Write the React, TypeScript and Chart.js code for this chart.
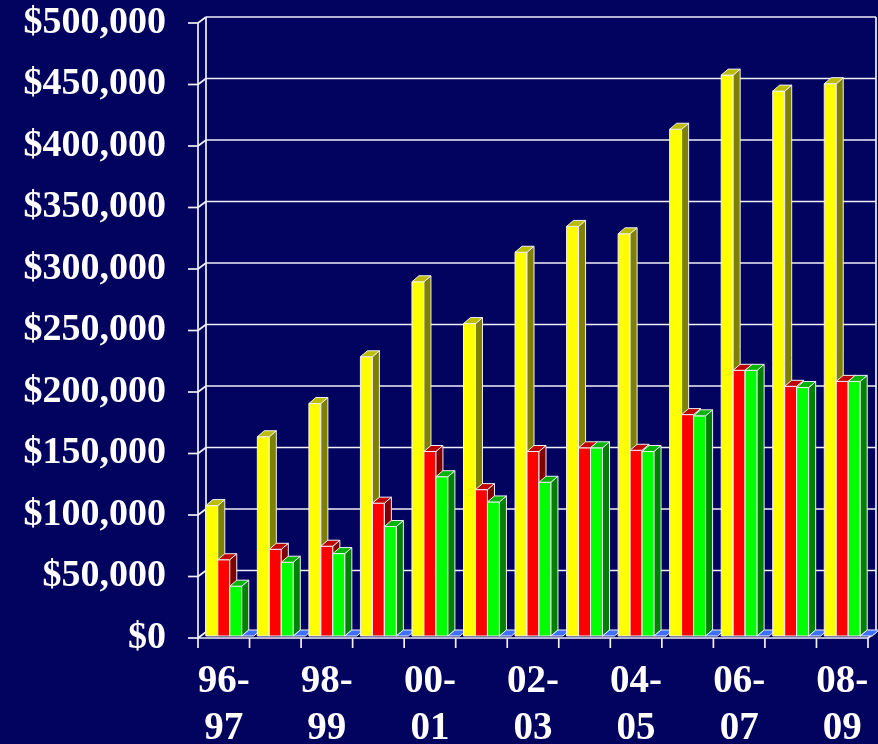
import React, { useEffect, useRef } from "react";
import { Chart, registerables } from "chart.js";

Chart.register(...registerables);

const categories = [
  "96-97", "97-98", "98-99", "99-00", "00-01", "01-02", "02-03",
  "03-04", "04-05", "05-06", "06-07", "07-08", "08-09",
];
const yellowSeries = [106000, 162000, 189000, 227000, 288000, 254000, 312000, 333000, 327000, 412000, 456000, 443000, 449000];
const redSeries = [62000, 70500, 73000, 108000, 150000, 119000, 150000, 153000, 151000, 180000, 216000, 203000, 207000];
const greenSeries = [40500, 60000, 67000, 89000, 129500, 109000, 125000, 153000, 150000, 179000, 216000, 202000, 207000];
const blueSeries = [0, 0, 0, 0, 0, 0, 0, 0, 0, 0, 0, 0, 0];
const yTickStep = 50000;
const yMax = 500000;

const faceColors = [
  { front: "#FFFF00", side: "#808000", top: "#BDBD00" },
  { front: "#FF0000", side: "#800000", top: "#C00000" },
  { front: "#00FF00", side: "#008000", top: "#00B400" },
  { front: "#3F6FFF", side: "#2040A0", top: "#3F6FFF" },
];

const BG = "#02025F";
const LINE = "#F0F0F8";
const BDX = 8; // back plane x offset
const BDY = -6; // back plane y offset
const SX = 6; // bar plane x shift
const SY = -2; // bar plane y shift
const D = 7; // bar depth x
const DY = 6; // bar depth y

const threeD = {
  id: "threeD",
  beforeDraw(chart: any) {
    const { ctx, width, height } = chart;
    ctx.save();
    ctx.fillStyle = BG;
    ctx.fillRect(0, 0, width, height);
    ctx.restore();
  },
  beforeDatasetsDraw(chart: any) {
    const { ctx, chartArea } = chart;
    const ys = chart.scales.y;
    const xs = chart.scales.x;
    const L = chartArea.left;
    const R = chartArea.right;
    const y0 = ys.getPixelForValue(0);
    const yTop = ys.getPixelForValue(yMax);
    ctx.save();
    ctx.strokeStyle = LINE;
    ctx.lineWidth = 1.7;
    ctx.lineCap = "butt";
    const line = (a: number, b: number, c: number, d: number) => {
      ctx.beginPath();
      ctx.moveTo(a, b);
      ctx.lineTo(c, d);
      ctx.stroke();
    };
    ys.ticks.forEach((t: any) => {
      const yF = ys.getPixelForValue(t.value);
      const yB = yF + BDY;
      line(L + BDX, yB, R + BDX, yB);
      line(L, yF, L + BDX, yB);
      line(L - 10, yF, L, yF);
    });
    line(L, yTop, L, y0 + 1);
    line(L + BDX, yTop + BDY, L + BDX, y0 + BDY);
    line(R + BDX, yTop + BDY, R + BDX, y0 + BDY);
    const n = categories.length;
    const cw = (R - L) / n;
    line(L, y0, R, y0);
    line(R, y0, R + BDX, y0 + BDY);
    for (let k = 0; k <= n; k++) {
      const xb = xs.left + k * cw;
      line(xb, y0, xb, y0 + 10);
    }
    ctx.restore();
  },
  afterDatasetsDraw(chart: any) {
    const { ctx } = chart;
    const metas = [0, 1, 2, 3].map((i) => chart.getDatasetMeta(i));
    ctx.save();
    ctx.strokeStyle = LINE;
    ctx.lineWidth = 1;
    ctx.lineJoin = "miter";
    const poly = (pts: number[][], fill: string) => {
      ctx.beginPath();
      ctx.moveTo(pts[0][0], pts[0][1]);
      for (let i = 1; i < pts.length; i++) ctx.lineTo(pts[i][0], pts[i][1]);
      ctx.closePath();
      ctx.fillStyle = fill;
      ctx.fill();
      ctx.stroke();
    };
    for (let i = 0; i < categories.length; i++) {
      metas.forEach((meta: any, di: number) => {
        const el = meta.data[i];
        if (!el) return;
        const c = faceColors[di];
        const x0 = el.x - el.width / 2 + SX;
        const x1 = el.x + el.width / 2 + SX;
        const top = el.y + SY;
        const base = el.base + SY;
        if (base - top > 0.5) {
          poly([[x0, top], [x1, top], [x1, base], [x0, base]], c.front);
          poly([[x1, top], [x1 + D, top - DY], [x1 + D, base - DY], [x1, base]], c.side);
        }
        poly([[x0, top], [x0 + D, top - DY], [x1 + D, top - DY], [x1, top]], c.top);
      });
    }
    ctx.restore();
  },
};

export default function App() {
  const ref = useRef<HTMLCanvasElement | null>(null);
  useEffect(() => {
    document.body.style.margin = "0";
    document.body.style.background = BG;
    const canvas = ref.current;
    if (!canvas) return;
    const chart = new Chart(canvas, {
      type: "bar",
      data: {
        labels: categories,
        datasets: [yellowSeries, redSeries, greenSeries, blueSeries].map((d, i) => ({
          label: "s" + i,
          data: d,
          backgroundColor: "rgba(0,0,0,0)",
          borderWidth: 0,
          categoryPercentage: 0.93,
          barPercentage: 1,
        })),
      },
      options: {
        responsive: false,
        animation: false,
        devicePixelRatio: 1,
        layout: { padding: { top: 23, right: 10, left: 0, bottom: 0 } },
        plugins: { legend: { display: false }, tooltip: { enabled: false } },
        scales: {
          x: {
            type: "category",
            grid: { display: false, drawTicks: false },
            border: { display: false },
            ticks: {
              autoSkip: false,
              maxRotation: 0,
              minRotation: 0,
              padding: 20,
              color: "#FFFFFF",
              font: { family: "'Liberation Serif', serif", size: 39, weight: "bold", lineHeight: 1.22 },
              callback: (_v: any, idx: number) => {
                if (idx % 2 !== 0) return "";
                const c = categories[idx];
                return [c.slice(0, 3), c.slice(3)];
              },
            },
            afterFit: (s: any) => {
              s.height = 106;
              s.paddingLeft = 0;
              s.paddingRight = 0;
              s.paddingTop = 0;
              s.paddingBottom = 0;
            },
          },
          y: {
            min: 0,
            max: yMax,
            grid: { display: false, drawTicks: false },
            border: { display: false },
            ticks: {
              stepSize: yTickStep,
              padding: 32,
              color: "#FFFFFF",
              font: { family: "'Liberation Serif', serif", size: 38, weight: "bold" },
              callback: (v: any) => "$" + Number(v).toLocaleString("en-US"),
            },
            afterFit: (s: any) => {
              s.width = 198;
              s.paddingTop = 0;
              s.paddingBottom = 0;
              s.paddingLeft = 0;
              s.paddingRight = 0;
            },
          },
        },
      },
      plugins: [threeD],
    });
    return () => chart.destroy();
  }, []);
  return (
    <div style={{ width: 878, height: 744, background: BG }}>
      <canvas ref={ref} width={878} height={744} style={{ display: "block" }} />
    </div>
  );
}
